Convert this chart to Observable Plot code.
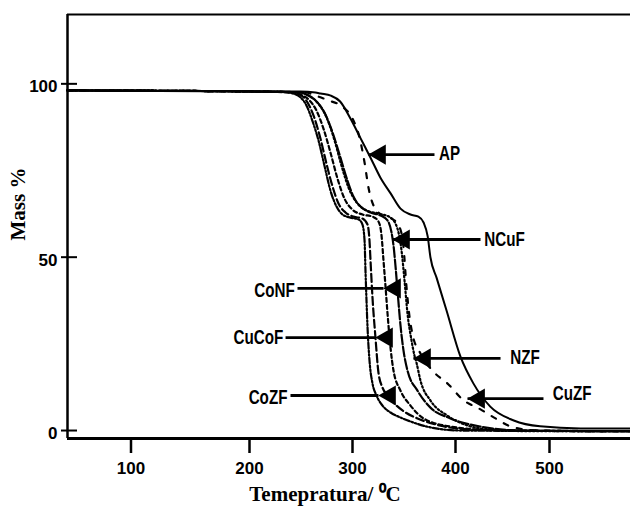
<!DOCTYPE html>
<html><head><meta charset="utf-8">
<script src="https://cdn.jsdelivr.net/npm/d3@7"></script>
<script src="https://cdn.jsdelivr.net/npm/@observablehq/plot@0.6"></script>
<style>html,body{margin:0;padding:0;background:#fff}</style>
</head><body><div id="chart"></div>
<script>
// ---- data (temperature °C, mass %) ----
const samples = ["AP", "NCuF", "CoNF", "CuCoF", "NZF", "CuZF", "CoZF"];

const apT = [46.4,201,249.5,264,269,279,288,298,308,317.5,327,337,346.6,356.3,364,369,373,375.7,381.6,391.3,405.3,419,437,462,490,533,586];
const apM = [98.1,97.8,97.8,97.5,97.2,96.6,94.9,90.0,84.2,78.7,73.0,68.4,64.0,62.3,61.7,60.0,56.0,49.9,44.1,34.6,21.3,13.6,6.9,2.9,1.2,0.6,0.6];

const ncufT = [46.4,201,247.6,255.3,264.1,272.8,280.6,288.3,295.1,300.9,307.8,317.5,327.2,334,337.9,339.8,341.7,343.7,346.6,349.5,353.4,363.1,375.7,395.1,426.6,469,586];
const ncufM = [98.1,97.8,97.6,96.9,95.2,91.7,86.0,78.7,72.1,67.5,64.6,62.9,62.0,60.6,57.1,53.4,47.6,40.4,30.3,23.1,17.3,11.5,6.6,3.5,1.15,0,-0.2];

const confT = [46.4,201,242,249.5,257.3,265,271.8,278.6,285.4,292.2,300,309.7,319.4,325.2,328.2,330.1,332,334,336.9,339.8,346.6,356.3,368.9,395.1,447.9,586];
const confM = [98.1,97.8,97.5,96.9,95.5,92.3,87.1,80.2,72.7,66.9,63.7,62.3,61.7,60.3,56.2,49.0,41.8,33.75,23.9,17.3,11.5,7.2,3.5,1.15,0,-0.2];

const cucofT = [46.4,201,238,246.6,254.4,262.1,268.9,274.7,280.6,286.4,293.2,301,309.7,314.6,316.5,317.5,319.4,322.3,325.2,329.1,334,341.7,351.5,363.1,385.4,414.6,469,586];
const cucofM = [98.1,97.8,97.6,97.2,95.5,90.9,84.2,77.0,70.4,65.5,62.9,61.7,61.15,59.4,54.8,49.0,38.4,26.8,16.7,12.4,10.1,7.5,5.2,3.5,1.4,0.3,0,-0.2];

const nzfT = [46.4,201,249.5,257.3,266,274.8,282.6,289.3,296.1,303.9,313.6,325.2,336.9,343.7,347.6,350.5,353.4,357.3,360.2,362.1,366,375.7,392.2,412.8,437.2,479.8,586];
const nzfM = [98.1,97.8,97.5,96.6,94.6,90.3,83.65,76.4,70.1,65.8,63.5,62.6,61.4,58.2,51.9,43.3,33.75,26.0,21.6,19.6,14.4,8.65,4.3,1.44,0.3,-0.2,-0.2];

const cuzfT = [46.4,201,254.4,264.1,276.7,290.3,300,306.8,311.7,315.5,320.4,329.1,338.8,345.6,349.5,352.4,355.3,358.3,366,375.7,393.2,407.4,426.6,442.6,461.7,490.4,586];
const cuzfM = [98.1,97.8,97.5,96.6,95.2,93.4,90.0,84.5,77.3,70.1,64.9,62.0,61.0,58.7,53.0,41.5,32.9,27.7,22.2,17.9,13.3,9.0,6.1,3.5,0.9,0,-0.2];

const cozfT = [46.4,201,235,242,249.5,255.4,261,267,272.8,278.6,284.5,290.3,298,305.8,309.7,311.7,312.6,313.6,314.6,316.5,319.4,323.3,329.1,336.9,346.6,356.3,375.7,405.3,586];
const cozfM = [98.1,97.8,97.6,97.2,96.1,93.7,89.4,83.65,76.4,69.2,64.6,62.3,61.4,60.9,59.4,54.8,46.2,37.5,29.7,20.2,13.6,10.1,7.2,5.2,3.75,2.6,0.9,0,-0.2];

const xTicks = [100, 200, 300, 400, 500];
const yTicks = [0, 50, 100];

// annotation labels + arrows (data units)
const annNames  = ["AP", "NCuF", "CoNF", "CuCoF", "NZF", "CuZF", "CoZF"];
const annTextX  = [394.2, 452.1, 224.3, 208.7, 474.0, 524.0, 218.0];
const annTextY  = [79.9, 55.1, 40.4, 26.8, 21.1, 10.7, 9.5];
const annFromX  = [379.6, 426.6, 246.6, 235.0, 447.9, 493.6, 239.8];
const annTipX   = [315.5, 338.8, 330.1, 322.3, 359.2, 412.8, 325.2];
const annArrowY = [79.6, 55.1, 41.0, 26.8, 20.8, 9.2, 10.1];

// ---- build tables ----
const seriesT = {AP: apT, NCuF: ncufT, CoNF: confT, CuCoF: cucofT, NZF: nzfT, CuZF: cuzfT, CoZF: cozfT};
const seriesM = {AP: apM, NCuF: ncufM, CoNF: confM, CuCoF: cucofM, NZF: nzfM, CuZF: cuzfM, CoZF: cozfM};
const table = samples.flatMap(s => seriesT[s].map((t, i) => ({sample: s, T: t, M: seriesM[s][i]})));
const ann = annNames.map((n, i) => ({name: n, tx: annTextX[i], ty: annTextY[i], fx: annFromX[i], tip: annTipX[i], ay: annArrowY[i]}));

const dash = {AP: null, NCuF: "10,2.5", CoNF: "4,3", CuCoF: "8,3.5", NZF: "1.6,2.4", CuZF: "5,9", CoZF: "6,2,1.6,2,1.6,2"};

// scale configuration (piecewise, as the reference axis is unevenly spaced)
const xDomain = [46.4, 100, 200, 300, 400, 500, 586.2];
const xRange = [67, 130.5, 249, 352, 455, 549, 630];
const yDomain = [-2.3, 120];

const labelFont = "'Liberation Sans', Arial, sans-serif";
const serif = "'Liberation Serif', 'Times New Roman', serif";

const chart = Plot.plot({
  width: 630, height: 511,
  marginLeft: 67, marginRight: 0, marginTop: 14, marginBottom: 73,
  x: {type: "linear", domain: xDomain, range: xRange, axis: null},
  y: {domain: yDomain, axis: null},
  style: {fontFamily: "'Liberation Sans', Arial, sans-serif", background: "white", color: "black"},
  marks: [
    ...samples.map(s => Plot.line(table.filter(d => d.sample === s), {
      x: "T", y: "M", stroke: "black", strokeWidth: s === "AP" ? 2 : 2.2,
      strokeDasharray: dash[s], curve: "monotone-x"
    })),
    // frame
    Plot.ruleY([yDomain[0]], {stroke: "black", strokeWidth: 3}),
    Plot.ruleY([yDomain[1]], {stroke: "black", strokeWidth: 2}),
    Plot.ruleX([xDomain[0]], {stroke: "black", strokeWidth: 2.5}),
    // axes
    Plot.axisX({ticks: xTicks, tickSize: 15, tickPadding: 8, strokeWidth: 2.5, fontSize: 17, fontWeight: "bold", label: null}),
    Plot.axisY({ticks: yTicks, tickSize: 16, dx: 10, strokeWidth: 2, tickFormat: () => "", label: null}),
    Plot.axisY({ticks: yTicks, tickSize: 0, tickPadding: 10, dy: 3, fontSize: 17, fontWeight: "bold", label: null}),
    // axis titles
    Plot.text(["Mass %"], {frameAnchor: "left", dx: -49, dy: 14, rotate: -90, fontFamily: serif, fontWeight: "bold", fontSize: 21}),
    Plot.text(["Temepratura/ \u2070C"], {frameAnchor: "bottom", dx: -24, dy: 62, fontFamily: serif, fontWeight: "bold", fontSize: 21}),
    // annotations
    Plot.link(ann, {x1: "fx", x2: "tip", y1: "ay", y2: "ay", stroke: "black", strokeWidth: 2.8}),
    Plot.dot(ann, {x: "tip", y: "ay", symbol: "triangle", r: 7.5, fill: "black", stroke: null, rotate: -90, dx: 11.5}),
    Plot.text(ann, {x: "tx", y: "ty", text: "name", fontFamily: labelFont, fontWeight: "bold", fontSize: 20, fill: "black"})
  ]
});
document.getElementById("chart").appendChild(chart);
// condensed look of the series labels: compress glyph advance only (position untouched)
d3.select(chart).selectAll("text")
  .filter(function() { return annNames.includes(this.textContent); })
  .each(function() {
    const w = this.getComputedTextLength();
    if (w > 0) {
      this.setAttribute("textLength", (w * 0.76).toFixed(1));
      this.setAttribute("lengthAdjust", "spacingAndGlyphs");
    }
  });
</script>
</body></html>
